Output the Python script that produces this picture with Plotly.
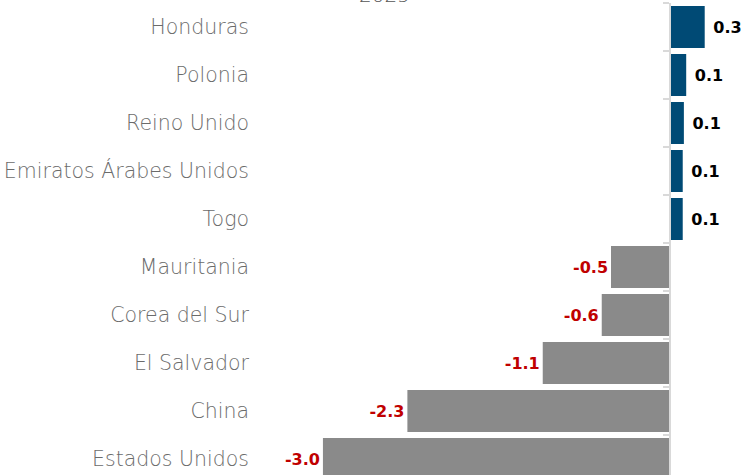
import plotly.graph_objects as go

countries = ["Honduras", "Polonia", "Reino Unido", "Emiratos Árabes Unidos", "Togo",
             "Mauritania", "Corea del Sur", "El Salvador", "China", "Estados Unidos"]
values = [0.30, 0.14, 0.12, 0.11, 0.11, -0.51, -0.59, -1.10, -2.27, -3.00]
labels = ["0.3", "0.1", "0.1", "0.1", "0.1", "-0.5", "-0.6", "-1.1", "-2.3", "-3.0"]
title_text = "2025"

POS = "#004a75"
NEG = "#8a8a8a"
RED = "#c00000"

bar_colors = [POS if v >= 0 else NEG for v in values]
text_colors = ["#000000" if v >= 0 else RED for v in values]
templates = [" %{text}" if v >= 0 else "%{text}" for v in values]

xmin, xmax = -3.544, 0.631
W, H = 743, 475
ml, mr, mt, mb = 260, 0, 3, 0
zero_frac = (0 - xmin) / (xmax - xmin)

fig = go.Figure()
fig.add_trace(go.Bar(
    y=countries, x=values, orientation="h",
    marker=dict(color=bar_colors, line=dict(width=0)),
    text=labels, texttemplate=templates, textposition="outside",
    textfont=dict(family="DejaVu Sans", size=16, color=text_colors, weight="bold"),
    cliponaxis=False, width=0.875, showlegend=False, hoverinfo="skip",
))
# invisible trace for the zero-positioned axis with boundary ticks
fig.add_trace(go.Bar(y=countries, x=[0]*len(countries), orientation="h",
                     yaxis="y2", showlegend=False, hoverinfo="skip",
                     marker=dict(color="rgba(0,0,0,0)")))

fig.update_layout(
    width=W, height=H,
    margin=dict(l=ml, r=mr, t=mt, b=mb),
    plot_bgcolor="white", paper_bgcolor="white",
    barmode="overlay",
    xaxis=dict(range=[xmin, xmax], showgrid=False, zeroline=False,
               showticklabels=False, showline=False, fixedrange=True),
    yaxis=dict(categoryorder="array", categoryarray=countries,
               range=[9.333, -0.5], showgrid=False, zeroline=False, showline=False,
               ticks="", ticklabelstandoff=10,
               tickfont=dict(family="DejaVu Sans", size=20.5, color="#6b6b6b", weight=300)),
    yaxis2=dict(overlaying="y", matches="y", anchor="free", position=zero_frac,
                side="left", showline=True, linecolor="#d9d9d9", linewidth=2,
                ticks="outside", tickson="boundaries", ticklen=6, tickwidth=2,
                tickcolor="#d9d9d9", showticklabels=False, showgrid=False,
                zeroline=False),
    annotations=[dict(text=title_text, x=0.257, xref="paper", xanchor="center",
                      y=1, yref="paper",
                      yanchor="bottom", yshift=-6, showarrow=False,
                      font=dict(family="DejaVu Sans", size=20, color="#555555", weight=300))],
)

fig.write_html("out.html", config={"displayModeBar": False},
               post_script="document.body.style.margin='0';")
